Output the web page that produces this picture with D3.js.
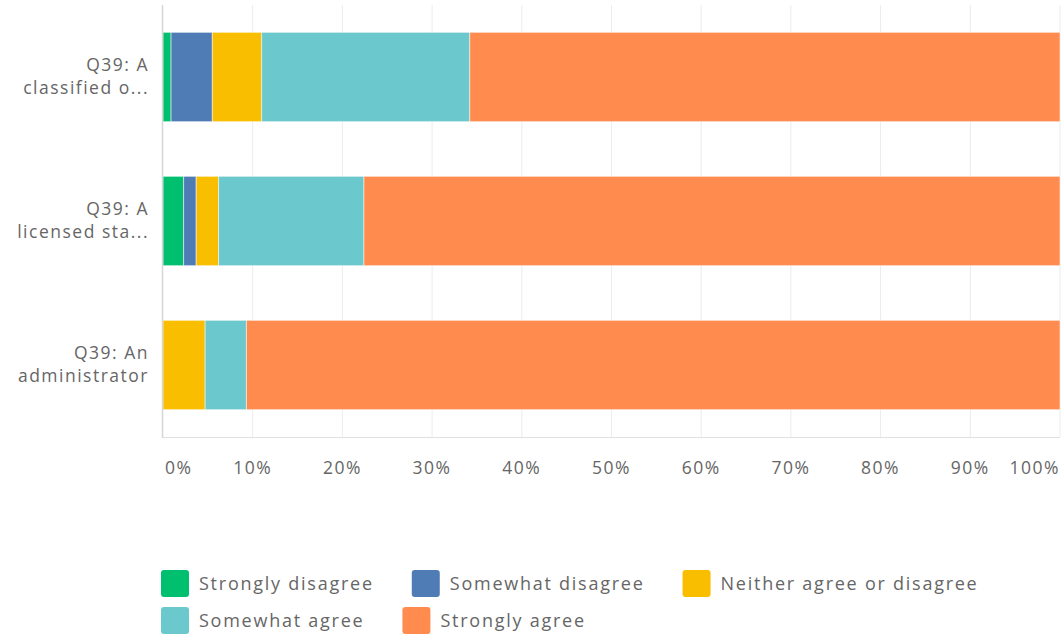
<!DOCTYPE html>
<html>
<head>
<meta charset="utf-8">
<script src="https://cdn.jsdelivr.net/npm/d3@7"></script>
<style>
  html, body { margin: 0; padding: 0; background: #ffffff; }
  svg { display: block; font-family: "Open Sans", "Noto Sans", sans-serif; }
  svg text { letter-spacing: 1.5px; }
  svg .legend text { letter-spacing: 1.75px; }
</style>
</head>
<body>
<svg id="chart" width="1063" height="637"></svg>
<script>
// Survey questions (already truncated as displayed)
const questions = [
  ["Q39: A", "classified o..."],
  ["Q39: A", "licensed sta..."],
  ["Q39: An", "administrator"]
];
const responses = ["Strongly disagree", "Somewhat disagree", "Neither agree or disagree", "Somewhat agree", "Strongly agree"];
const colors = ["#00bf6f", "#507cb6", "#f9be00", "#6bc8cd", "#ff8b4f"];

// Percent of respondents per answer, one array per question
const classifiedValues    = [0.9, 4.6, 5.5, 23.2, 65.8];
const licensedValues      = [2.3, 1.4, 2.5, 16.2, 77.6];
const administratorValues = [0.0, 0.0, 4.7, 4.6, 90.7];

const tickValues = [0, 10, 20, 30, 40, 50, 60, 70, 80, 90, 100];
const tickLabels = ["0%", "10%", "20%", "30%", "40%", "50%", "60%", "70%", "80%", "90%", "100%"];

const rows = [classifiedValues, licensedValues, administratorValues];

const svg = d3.select("#chart");
const margin = { left: 163, right: 3, top: 5 };
const W = 1063;
const plotBottom = 437;
const textColor = "#666666";

const x = d3.scaleLinear().domain([0, 100]).range([margin.left, W - margin.right]);
const y = d3.scaleBand().domain(d3.range(questions.length))
  .range([margin.top, plotBottom]).paddingInner(0.38).paddingOuter(0.19);

// vertical grid lines
svg.append("g").selectAll("line").data(tickValues.slice(1)).join("line")
  .attr("x1", d => x(d)).attr("x2", d => x(d))
  .attr("y1", margin.top).attr("y2", plotBottom)
  .attr("stroke", "#ececec").attr("stroke-width", 1);

// bottom frame
svg.append("line")
  .attr("x1", x(0)).attr("x2", x(100)).attr("y1", plotBottom + 0.5).attr("y2", plotBottom + 0.5)
  .attr("stroke", "#e0e0e0");

// stacked bars
const stacked = rows.map((vals, i) => {
  let acc = 0;
  return vals.map((v, k) => { const s = { row: i, k, x0: acc, x1: acc + v }; acc += v; return s; });
});

svg.append("g").selectAll("g").data(stacked).join("g")
  .selectAll("rect").data(d => d.filter(s => s.x1 > s.x0)).join("rect")
  .attr("x", s => x(s.x0))
  .attr("width", s => x(s.x1) - x(s.x0))
  .attr("y", s => y(s.row))
  .attr("height", y.bandwidth())
  .attr("fill", s => colors[s.k])
  .attr("stroke", "#ffffff").attr("stroke-opacity", 0.5).attr("stroke-width", 1);

// left axis line
svg.append("line")
  .attr("x1", margin.left - 0.5).attr("x2", margin.left - 0.5)
  .attr("y1", margin.top).attr("y2", plotBottom + 1)
  .attr("stroke", "#d6d6d6").attr("stroke-width", 1.5);

// category labels
const yl = svg.append("g").selectAll("text").data(questions).join("text")
  .attr("text-anchor", "end")
  .attr("fill", textColor)
  .attr("font-size", 17.5)
  .attr("transform", (d, i) => `translate(149, ${y(i) + y.bandwidth() / 2})`);
yl.selectAll("tspan").data(d => d).join("tspan")
  .attr("x", 0)
  .attr("y", (d, j) => j === 0 ? -6 : 17)
  .text(d => d);

// x tick labels: first left-aligned, last right-aligned
svg.append("g").selectAll("text").data(tickValues).join("text")
  .attr("x", (d, i) => i === 0 ? x(d) + 2 : x(d))
  .attr("y", 474)
  .attr("text-anchor", (d, i) => i === 0 ? "start" : i === tickValues.length - 1 ? "end" : "middle")
  .attr("fill", textColor)
  .attr("font-size", 17.5)
  .text((d, i) => tickLabels[i]);

// legend with wrapping
const legend = svg.append("g").attr("class", "legend");
const sw = 28, gapText = 10, gapItem = 38, rowH = 37, maxRight = 1060;
let lx = 161, ly = 570;
responses.forEach((r, k) => {
  const g = legend.append("g");
  g.append("rect").attr("width", sw).attr("height", 27).attr("rx", 3).attr("fill", colors[k]);
  const t = g.append("text").attr("x", sw + gapText).attr("y", 14).attr("dy", "0.35em")
    .attr("fill", textColor).attr("font-size", 18).text(r);
  const w = sw + gapText + t.node().getComputedTextLength();
  if (lx + w > maxRight) { lx = 161; ly += rowH; }
  g.attr("transform", `translate(${lx}, ${ly})`);
  lx += w + gapItem;
});
</script>
</body>
</html>
